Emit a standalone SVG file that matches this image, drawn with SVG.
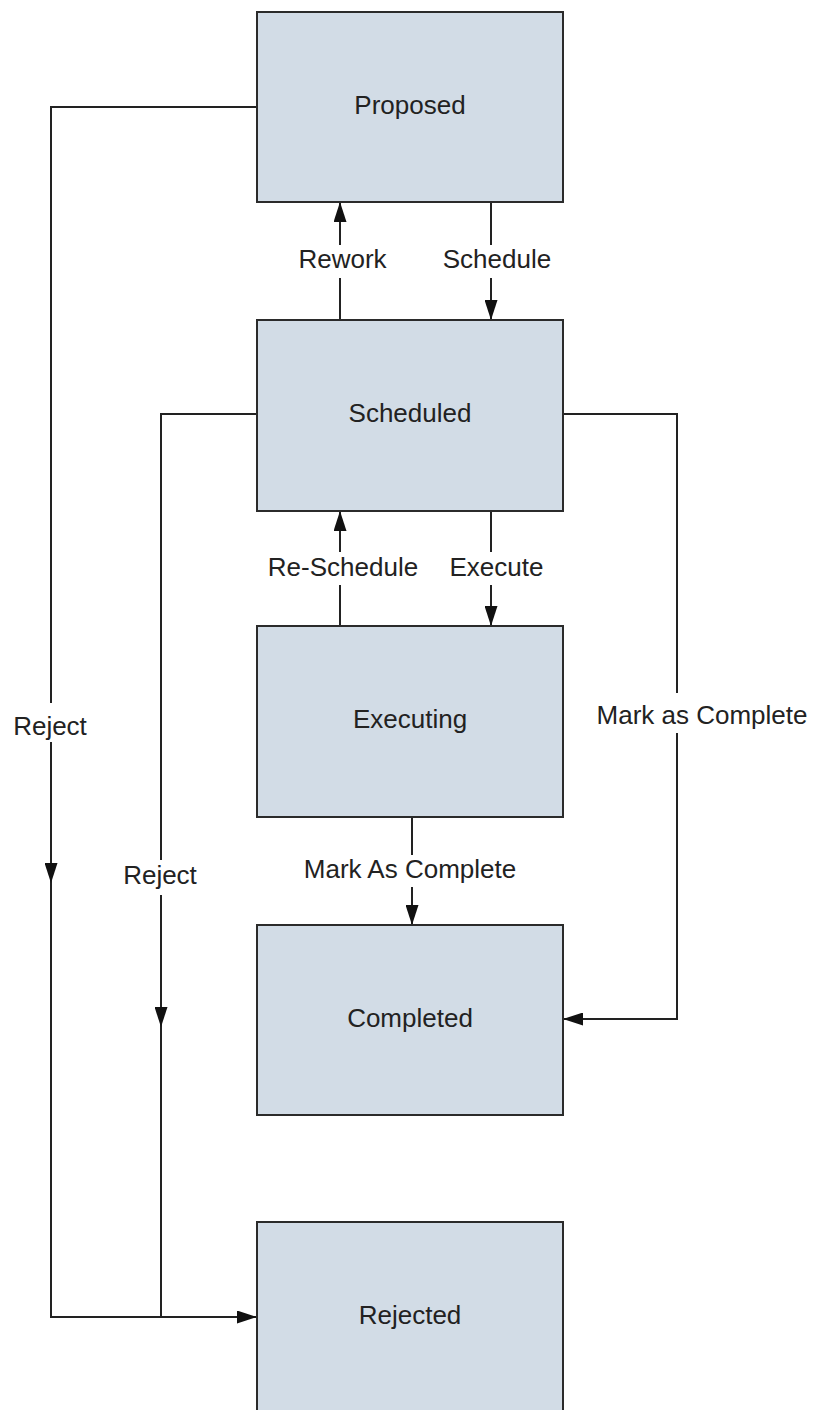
<svg xmlns="http://www.w3.org/2000/svg" width="815" height="1410" viewBox="0 0 815 1410">
<style>
.box{fill:#D2DCE6;stroke:#2b2b2b;stroke-width:2}
.t{font-family:"Liberation Sans",Arial,sans-serif;font-size:26px;fill:#222;text-anchor:middle}
.c{fill:none;stroke:#222;stroke-width:2;marker-end:url(#ah)}
.bg{fill:#fff}
</style>
<defs>
<marker id="ah" markerUnits="userSpaceOnUse" markerWidth="20" markerHeight="13" refX="20" refY="6.5" orient="auto">
<path d="M0,0 L20,6.5 L0,13 z" fill="#111"/>
</marker>
</defs>
<rect width="815" height="1410" fill="#fff"/>
<g id="connectors">
<path class="c" d="M257,107 H51 V883"/>
<path class="c" d="M51,883 V1317 H257"/>
<path class="c" d="M257,414 H161 V1027"/>
<path class="c" d="M161,1027 V1317" style="marker-end:none"/>
<path class="c" d="M563,414 H677 V1019 H563"/>
<path class="c" d="M340,320 V202"/>
<path class="c" d="M491,202 V320"/>
<path class="c" d="M340,626 V511"/>
<path class="c" d="M491,511 V626"/>
<path class="c" d="M412,817 V925"/>
<g id="labels">
<rect class="bg" x="296" y="245" width="94" height="33"/>
<text class="t" x="342.5" y="268">Rework</text>
<rect class="bg" x="440" y="245" width="114" height="33"/>
<text class="t" x="497" y="268">Schedule</text>
<rect class="bg" x="265" y="552" width="156" height="33"/>
<text class="t" x="343" y="576">Re-Schedule</text>
<rect class="bg" x="446" y="552" width="101" height="33"/>
<text class="t" x="496.5" y="576">Execute</text>
<rect class="bg" x="299" y="855" width="222" height="32"/>
<text class="t" x="410" y="878">Mark As Complete</text>
<rect class="bg" x="10" y="703" width="80" height="39"/>
<text class="t" x="50" y="735">Reject</text>
<rect class="bg" x="120" y="860" width="80" height="35"/>
<text class="t" x="160" y="884">Reject</text>
<rect class="bg" x="594" y="693" width="216" height="40"/>
<text class="t" x="702" y="724">Mark as Complete</text>
</g>
</g>
<g id="proposed"><rect class="box" x="257" y="12" width="306" height="190"/><text class="t" x="410" y="114">Proposed</text></g>
<g id="scheduled"><rect class="box" x="257" y="320" width="306" height="191"/><text class="t" x="410" y="422">Scheduled</text></g>
<g id="executing"><rect class="box" x="257" y="626" width="306" height="191"/><text class="t" x="410" y="728">Executing</text></g>
<g id="completed"><rect class="box" x="257" y="925" width="306" height="190"/><text class="t" x="410" y="1027">Completed</text></g>
<g id="rejected"><rect class="box" x="257" y="1222" width="306" height="200"/><text class="t" x="410" y="1324">Rejected</text></g>
</svg>
